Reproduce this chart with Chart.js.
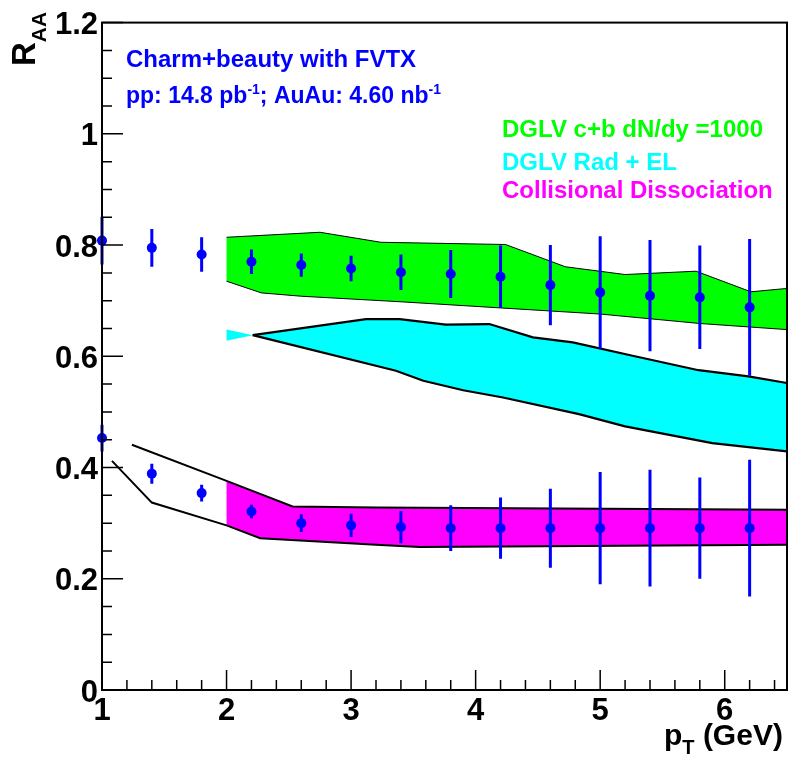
<!DOCTYPE html>
<html>
<head>
<meta charset="utf-8">
<script src="https://cdn.jsdelivr.net/npm/chart.js@4.4.1/dist/chart.umd.min.js"></script>
<style>
  html, body { margin: 0; padding: 0; background: #fff; }
  canvas { display: block; }
</style>
</head>
<body>
<canvas id="raa" width="788" height="763"></canvas>
<script>
// ---- measured R_AA points (charm+beauty, FVTX) ----
const ptBins   = [1.0, 1.4, 1.8, 2.2, 2.6, 3.0, 3.4, 3.8, 4.2, 4.6, 5.0, 5.4, 5.8, 6.2];
const raaHigh  = [0.808, 0.795, 0.783, 0.770, 0.764, 0.758, 0.751, 0.748, 0.743, 0.728, 0.715, 0.709, 0.706, 0.688];
const errHigh  = [0.043, 0.034, 0.031, 0.022, 0.021, 0.023, 0.032, 0.043, 0.056, 0.072, 0.101, 0.100, 0.093, 0.123];
const raaLow   = [0.453, 0.389, 0.354, 0.321, 0.300, 0.296, 0.293, 0.291, 0.291, 0.291, 0.291, 0.291, 0.291, 0.291];
const errLow   = [0.024, 0.018, 0.015, 0.012, 0.016, 0.021, 0.029, 0.041, 0.055, 0.071, 0.101, 0.105, 0.091, 0.123];

// ---- model bands: [pT, R_AA] along the upper and lower edges ----
const dglvUpper = [[2.0, 0.814], [2.75, 0.823], [3.24, 0.805], [4.24, 0.801], [4.72, 0.761], [5.20, 0.747], [5.77, 0.753], [6.21, 0.716], [6.5, 0.722]];
const dglvLower = [[2.0, 0.735], [2.28, 0.714], [2.6, 0.708], [3.4, 0.698], [4.2, 0.687], [5.0, 0.676], [5.8, 0.659], [6.5, 0.648]];

const radElUpper = [[2.0, 0.648], [2.21, 0.638], [3.12, 0.667], [3.39, 0.667], [3.76, 0.657], [4.11, 0.658], [4.46, 0.634], [4.78, 0.625], [5.26, 0.601], [5.79, 0.575], [6.19, 0.564], [6.5, 0.552]];
const radElLower = [[2.0, 0.628], [2.21, 0.638], [3.36, 0.574], [3.58, 0.556], [3.9, 0.539], [4.22, 0.526], [4.83, 0.496], [5.2, 0.474], [5.9, 0.444], [6.5, 0.429]];

const collUpper = [[1.24, 0.441], [2.0, 0.376], [2.53, 0.330], [3.2, 0.328], [6.5, 0.324]];
const collLower = [[1.08, 0.412], [1.40, 0.337], [2.0, 0.296], [2.27, 0.273], [3.2, 0.261], [3.55, 0.257], [6.5, 0.261]];

// ---- axes ----
const xRange = [1, 6.5];
const yRange = [0, 1.2];
const xTicks = [1, 2, 3, 4, 5, 6];
const xTickLabels = ['1', '2', '3', '4', '5', '6'];
const yTicks = [0, 0.2, 0.4, 0.6, 0.8, 1.0, 1.2];
const yTickLabels = ['0', '0.2', '0.4', '0.6', '0.8', '1', '1.2'];
const xMinorStep = 0.2;
const yMinorStep = 0.05;

const FONT = "'Liberation Sans', Arial, Helvetica, sans-serif";
const BLUE = '#0000ff', GREEN = '#00ff00', CYAN = '#00ffff', MAGENTA = '#ff00ff';

const toPts = arr => arr.map(([x, y]) => ({ x, y }));
// closed outline: upper edge left->right, then lower edge right->left
const band = (upper, lower) => toPts(upper.concat(lower.slice().reverse()));

// vertical error bars as one broken line (null y breaks the path)
function errorPath(ys, errs) {
  const out = [];
  ptBins.forEach((x, i) => {
    out.push({ x, y: ys[i] - errs[i] }, { x, y: ys[i] + errs[i] }, { x, y: null });
  });
  return out;
}

const fillSet = (data, color, order) => ({
  data, showLine: true, fill: 'shape', backgroundColor: color,
  borderWidth: 0, borderColor: 'rgba(0,0,0,0)', pointRadius: 0, tension: 0, order
});
const edgeSet = (data, width, order) => ({
  data: toPts(data), showLine: true, fill: false, borderColor: '#000',
  borderWidth: width, pointRadius: 0, tension: 0, order
});

const datasets = [
  fillSet(band(dglvUpper, dglvLower), GREEN, 30),
  fillSet(band(radElUpper, radElLower), CYAN, 29),
  fillSet(band(collUpper.slice(1), collLower.slice(2)), MAGENTA, 28),
  edgeSet(dglvUpper, 1, 20),
  edgeSet(dglvLower, 1, 20),
  edgeSet(radElUpper.slice(1), 2.2, 20),
  edgeSet(radElLower.slice(1), 2.2, 20),
  edgeSet(collUpper, 2, 20),
  edgeSet(collLower, 2, 20),
  {
    data: errorPath(raaHigh, errHigh).concat(errorPath(raaLow, errLow)),
    showLine: true, spanGaps: false, fill: false, borderColor: BLUE, borderWidth: 3,
    borderCapStyle: 'butt', pointRadius: 0, clip: false, order: 2
  },
  {
    data: ptBins.map((x, i) => ({ x, y: raaHigh[i] })).concat(ptBins.map((x, i) => ({ x, y: raaLow[i] }))),
    showLine: false, pointRadius: 5, pointBackgroundColor: BLUE, pointBorderWidth: 0,
    pointBorderColor: BLUE, clip: false, order: 1
  }
];

// inward ticks and the closed frame, ROOT style
const frameTicks = {
  id: 'frameTicks',
  afterDraw(chart) {
    const { ctx, chartArea: a, scales: { x, y } } = chart;
    ctx.save();
    ctx.strokeStyle = '#000';
    ctx.lineWidth = 1.5;
    ctx.beginPath();
    for (let v = xRange[0]; v <= xRange[1] + 1e-9; v += xMinorStep) {
      const px = x.getPixelForValue(v);
      ctx.moveTo(px, a.bottom); ctx.lineTo(px, a.bottom - 10);
    }
    xTicks.forEach(v => {
      const px = x.getPixelForValue(v);
      ctx.moveTo(px, a.bottom); ctx.lineTo(px, a.bottom - 20);
    });
    for (let v = yRange[0]; v <= yRange[1] + 1e-9; v += yMinorStep) {
      const py = y.getPixelForValue(v);
      ctx.moveTo(a.left, py); ctx.lineTo(a.left + 10, py);
    }
    yTicks.forEach(v => {
      const py = y.getPixelForValue(v);
      ctx.moveTo(a.left, py); ctx.lineTo(a.left + 21, py);
    });
    ctx.stroke();
    ctx.lineWidth = 2;
    ctx.strokeRect(a.left, a.top, a.right - a.left, a.bottom - a.top);
    ctx.restore();
  }
};

// draws a run of text pieces; each piece: [text, size, baseline shift]
function richText(ctx, x, y, pieces, color) {
  ctx.fillStyle = color;
  ctx.textBaseline = 'alphabetic';
  ctx.textAlign = 'left';
  let cx = x;
  pieces.forEach(([t, size, dy]) => {
    ctx.font = `bold ${size}px ${FONT}`;
    ctx.fillText(t, cx, y + dy);
    cx += ctx.measureText(t).width;
  });
}

const labels = {
  id: 'labels',
  afterDraw(chart) {
    const ctx = chart.ctx;
    ctx.save();
    richText(ctx, 126, 67, [['Charm+beauty with FVTX', 24, 0]], BLUE);
    richText(ctx, 126, 103, [
      ['pp: 14.8 pb', 23, 0], ['-1', 14, -9],
      ['; AuAu: 4.60 nb', 23, 0], ['-1', 14, -9]
    ], BLUE);
    richText(ctx, 502, 137, [['DGLV c+b dN/dy =1000', 24, 0]], GREEN);
    richText(ctx, 502, 170, [['DGLV Rad + EL', 24, 0]], CYAN);
    richText(ctx, 502, 198, [['Collisional Dissociation', 24, 0]], MAGENTA);

    // x-axis title
    richText(ctx, 664, 745, [['p', 30, 0], ['T', 20, 9], [' (GeV)', 30, 0]], '#000');

    // y-axis title, rotated
    ctx.translate(35, 66);
    ctx.rotate(-Math.PI / 2);
    richText(ctx, 0, 0, [['R', 33, 0], ['AA', 21, 11]], '#000');
    ctx.restore();
  }
};

const tickFont = { family: FONT, size: 31, weight: 'bold', lineHeight: 1.2 };

new Chart(document.getElementById('raa'), {
  type: 'scatter',
  data: { datasets },
  options: {
    responsive: false,
    animation: false,
    events: [],
    layout: { padding: { top: 15, right: 1, left: 0, bottom: 0 }, autoPadding: false },
    plugins: { legend: { display: false }, tooltip: { enabled: false } },
    scales: {
      x: {
        type: 'linear', position: 'bottom', min: xRange[0], max: xRange[1],
        afterBuildTicks: s => { s.ticks = xTicks.map(v => ({ value: v })); },
        afterFit: s => { s.height = 73; },
        grid: { display: false, drawTicks: false },
        border: { display: false },
        ticks: {
          color: '#000', font: tickFont, padding: 3, maxRotation: 0, autoSkip: false,
          callback: (v, i) => xTickLabels[i]
        }
      },
      y: {
        type: 'linear', position: 'left', min: yRange[0], max: yRange[1],
        afterBuildTicks: s => { s.ticks = yTicks.map(v => ({ value: v })); },
        afterFit: s => { s.width = 102; },
        grid: { display: false, drawTicks: false },
        border: { display: false },
        ticks: {
          color: '#000', font: tickFont, padding: 4, labelOffset: 3, autoSkip: false,
          callback: (v, i) => yTickLabels[i]
        }
      }
    }
  },
  plugins: [frameTicks, labels]
});
</script>
</body>
</html>
